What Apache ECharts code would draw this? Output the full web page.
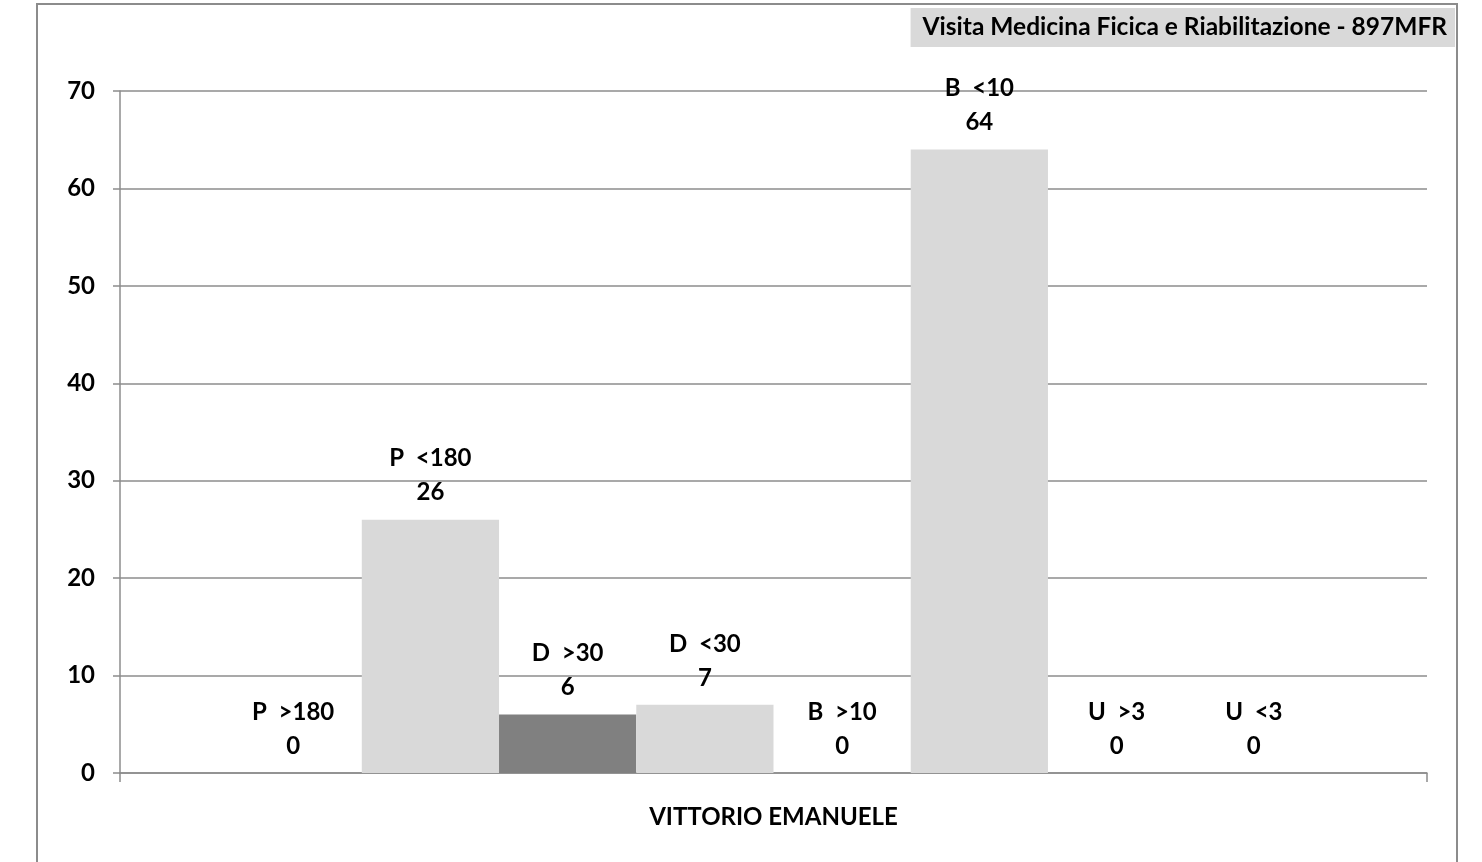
<!DOCTYPE html>
<html>
<head>
<meta charset="utf-8">
<script src="https://cdn.jsdelivr.net/npm/echarts@6/dist/echarts.min.js"></script>
<style>html,body{margin:0;padding:0;background:#fff;}#c{width:1482px;height:862px;}</style>
</head>
<body>
<div id="c"></div>
<script>
const categories = ['VITTORIO EMANUELE'];
const seriesNames = ['P  >180', 'P  <180', 'D  >30', 'D  <30', 'B  >10', 'B  <10', 'U  >3', 'U  <3'];
const seriesValues = [0, 26, 6, 7, 0, 64, 0, 0];
const seriesColors = ['#d9d9d9', '#d9d9d9', '#808080', '#d9d9d9', '#d9d9d9', '#d9d9d9', '#d9d9d9', '#d9d9d9'];
const yTicks = [0, 10, 20, 30, 40, 50, 60, 70];
const titleText = 'Visita Medicina Ficica e Riabilitazione - 897MFR';

const FONT = 'Lato';
const chart = echarts.init(document.getElementById('c'));
chart.setOption({
  animation: false,
  title: {
    text: titleText,
    right: 27, top: 8,
    backgroundColor: '#d9d9d9',
    padding: [7, 8, 7, 12],
    textStyle: { fontFamily: FONT, fontWeight: 'bold', fontSize: 24.5, color: '#000' }
  },
  graphic: [{
    type: 'rect', silent: true,
    shape: { x: 37, y: 4, width: 1420, height: 880 },
    style: { fill: 'none', stroke: '#8c8c8c', lineWidth: 2 }
  }],
  grid: { left: 120, right: 55, top: 91, bottom: 89 },
  xAxis: {
    type: 'category',
    data: categories,
    axisLine: { lineStyle: { color: '#8c8c8c', width: 1.5 } },
    axisTick: { show: true, length: 9, lineStyle: { color: '#8c8c8c', width: 1.5 } },
    axisLabel: { margin: 32, fontFamily: FONT, fontWeight: 'bold', fontSize: 24, color: '#000' }
  },
  yAxis: {
    type: 'value', min: yTicks[0], max: yTicks[yTicks.length - 1], interval: 10,
    axisLine: { show: true, lineStyle: { color: '#8c8c8c', width: 1.5 } },
    axisTick: { show: true, length: 7, lineStyle: { color: '#8c8c8c', width: 1.5 } },
    splitLine: { lineStyle: { color: '#8c8c8c', width: 1.5 } },
    axisLabel: { margin: 25, fontFamily: FONT, fontWeight: 'bold', fontSize: 24, color: '#000' }
  },
  series: seriesNames.map((n, i) => ({
    type: 'bar',
    name: n,
    data: [seriesValues[i]],
    barGap: '0%',
    barCategoryGap: '16%',
    itemStyle: { color: seriesColors[i] },
    label: {
      show: true, position: 'top', distance: 10,
      formatter: '{a}\n{c}',
      fontFamily: FONT, fontWeight: 'bold', fontSize: 24, color: '#000',
      lineHeight: 34, align: 'center'
    }
  }))
});
</script>
</body>
</html>
